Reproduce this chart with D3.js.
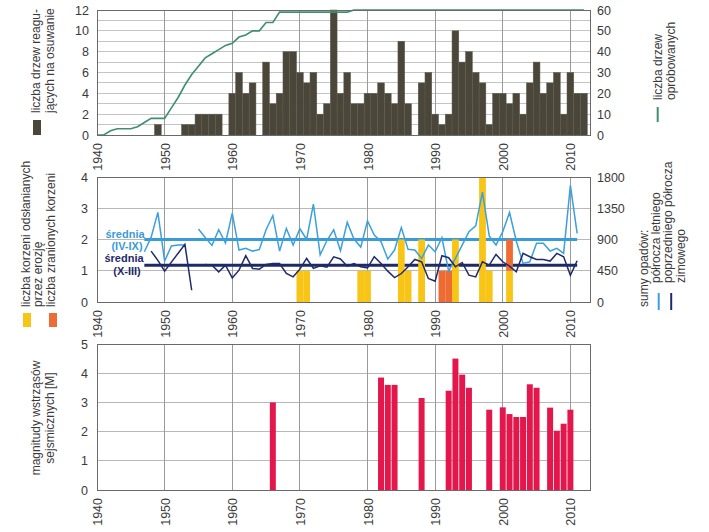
<!DOCTYPE html>
<html><head><meta charset="utf-8">
<script src="https://cdn.jsdelivr.net/npm/d3@7"></script>
<style>
body{margin:0;background:#fff}
svg{display:block}
text{font-family:"Liberation Sans",Arial,sans-serif}
</style>
</head><body><div id="chart"></div>
<script>
// ---------------- DATA ----------------
const decadeTicks = [1940,1950,1960,1970,1980,1990,2000,2010];

// top panel: trees reacting to landslide (bars, left axis) 1940-2012
const reactStart = 1940;
const reactingTrees = [0,0,0,0,0,0,0,0,0,1, 0,0,0,1,1,2,2,2,2,0, 4,6,4,5,0,7,3,4,8,8,
  6,5,6,2,3,12,4,6,3,3, 4,4,5,4,3,9,3,0,5,6, 2,1,2,10,7,8,6,5,1,4, 4,3,4,2,5,7,4,5,6,2, 6,4,4];
// number of sampled trees (line, right axis) 1940-2012
const sampledTrees = [0,0,2,3,3,3,4,6,8,8, 8,13,18,24,29,33,37,39,41,43, 44,47,48,50,50,54,54,59,59,59,
  59,59,59,59,59,59,59,59,60,60, 60,60,60,60,60,60,60,60,60,60, 60,60,60,60,60,60,60,60,60,60,
  60,60,60,60,60,60,60,60,60,60, 60,60,60];
const topLeftTicks = [0,2,4,6,8,10,12];
const topRightTicks = [0,10,20,30,40,50,60];

// middle panel: precipitation sums 1947-2011
const rainStart = 1947;
const summerRain = [723,930,1290,589,806,820,820,null, 1052,930,815,1040,850,
  1279,748,772,733,755,1040,1245,733,1060,820, 1055,900,1409,680,885,1040,740,1149,907,791,
  1168,965,869,618,748,1071,758,748,627,820, 724,927,444,627,820,1013,1096,1583,951,820,
  1013,1289,878,555,579,845,845,734,772,700, 1680,989];
const winterRain = [null,733,600,444,574,703,830,169, null,541,531,434,531,
  347,459,666,483,473,541,555,555,411,362, 473,627,483,521,500,650,620,516,555,507,
  492,652,555,444,352,410,507,613,579,338, 299,666,637,507,569,386,362,579,531,685,
  579,516,434,700,652,613,613,589,700,652, 386,594];
const summerMean = 900, winterMean = 530;
const meanYears = [1947, 2011];
// roots exposed by erosion / wounded roots
const exposedYears = [1970,1971,1979,1980,1985,1986,1988,1993,1997,1998,2001];
const exposedRoots = [1,1,1,1,2,1,2,2,4,1,1];
const woundedYears = [1991,1992,2001];
const woundedRoots = [1,1,1];
const midLeftTicks = [0,1,2,3,4];
const midRightTicks = [0,450,900,1350,1800];

// bottom panel: seismic magnitudes
const quakeYears = [1966,1982,1983,1984,1988,1992,1993,1994,1995,1998,2000,2001,2002,2003,2004,2005,2007,2008,2009,2010];
const quakeMag = [3.0,3.85,3.6,3.6,3.15,3.4,4.5,3.95,3.5,2.75,2.83,2.6,2.5,2.5,3.62,3.5,2.82,2.03,2.27,2.75];
const botLeftTicks = [0,1,2,3,4,5];

// ---------------- CHART ----------------
const W = 709, H = 532;
const svg = d3.select("#chart").append("svg").attr("width", W).attr("height", H);
svg.append("rect").attr("width", W).attr("height", H).attr("fill", "#fff");

const X0 = 97, X1 = 590;
const x = d3.scaleLinear().domain([1940, 2012.9]).range([X0, X1]);
const bw = x(1941) - x(1940);
const fmt = d3.format("d");

const C = {
  frame: "#6a6a6a", gridH: "#c4c4c4", gridV: "#9a9a9a", text: "#3a3a3a",
  treeBar: "#4a4639", treeLine: "#3d8f6f",
  light: "#3ba0dc", lightMean: "#3a9bd7", dark: "#1f2a6b", darkMean: "#1e2a66",
  yellow: "#f8c516", orange: "#ee6b34", red: "#e3174b"
};

function panel(yTop, yBot, yDomain, hTicks, gridHColor) {
  const y = d3.scaleLinear().domain(yDomain).range([yBot, yTop]);
  const g = svg.append("g");
  g.selectAll(".gh").data(hTicks).join("line")
    .attr("x1", X0).attr("x2", X1).attr("y1", d => y(d)).attr("y2", d => y(d))
    .attr("stroke", gridHColor).attr("stroke-width", 1).attr("shape-rendering", "crispEdges");
  g.selectAll(".gv").data(decadeTicks.slice(1)).join("line")
    .attr("x1", d => x(d)).attr("x2", d => x(d)).attr("y1", yTop).attr("y2", yBot)
    .attr("stroke", C.gridV).attr("stroke-width", 1).attr("shape-rendering", "crispEdges");
  return { y, g, yTop, yBot };
}
function frame(p) {
  svg.append("rect").attr("x", X0).attr("y", p.yTop).attr("width", X1 - X0).attr("height", p.yBot - p.yTop)
    .attr("fill", "none").attr("stroke", C.frame).attr("stroke-width", 1).attr("shape-rendering", "crispEdges");
}
function styleAxis(sel) {
  sel.select(".domain").remove();
  sel.selectAll("line").remove();
  sel.selectAll("text").attr("fill", C.text).style("font-size", "12.5px")
    .style("font-family", '"Liberation Sans",Arial,sans-serif');
}
function xLabels(p) {
  const a = svg.append("g").attr("transform", `translate(0,${p.yBot})`)
    .call(d3.axisBottom(x).tickValues(decadeTicks).tickFormat(fmt).tickSize(0));
  styleAxis(a);
  a.selectAll("text").attr("transform", "rotate(-90)").attr("x", -8).attr("y", 0)
    .attr("dy", "0.36em").style("text-anchor", "end");
}
function leftAxis(p, ticks, pad) {
  const a = svg.append("g").attr("transform", `translate(${X0},0)`)
    .call(d3.axisLeft(p.y).tickValues(ticks).tickFormat(fmt).tickSize(0).tickPadding(pad));
  styleAxis(a);
}
function rightAxis(yScale, ticks) {
  const a = svg.append("g").attr("transform", `translate(${X1},0)`)
    .call(d3.axisRight(yScale).tickValues(ticks).tickFormat(fmt).tickSize(0).tickPadding(7));
  styleAxis(a);
}

// ---- TOP PANEL ----
const pT = panel(10, 135, [0, 12], d3.range(0, 13), C.gridH);
const yTR = d3.scaleLinear().domain([0, 60]).range([135, 10]);
const topBars = reactingTrees.map((v, i) => ({ yr: reactStart + i, v }));
pT.g.selectAll(".tb").data(topBars.filter(d => d.v > 0)).join("rect")
  .attr("x", d => x(d.yr) - bw / 2).attr("width", bw)
  .attr("y", d => pT.y(d.v)).attr("height", d => pT.y(0) - pT.y(d.v))
  .attr("fill", C.treeBar).attr("stroke", "#5f5b4e").attr("stroke-width", 0.5);
const sampled = sampledTrees.map((v, i) => ({ yr: reactStart + i, v }));
pT.g.append("path").datum(sampled)
  .attr("d", d3.line().x(d => x(d.yr)).y(d => yTR(d.v)))
  .attr("fill", "none").attr("stroke", C.treeLine).attr("stroke-width", 1.6);
frame(pT);
leftAxis(pT, topLeftTicks, 8);
rightAxis(yTR, topRightTicks);
xLabels(pT);

// ---- MIDDLE PANEL ----
const pM = panel(177, 302, [0, 4], midLeftTicks, "#b8b8b8");
const yMR = d3.scaleLinear().domain([0, 1800]).range([302, 177]);
[[summerMean, C.lightMean], [winterMean, C.darkMean]].forEach(([m, col]) => {
  pM.g.append("line").attr("x1", x(meanYears[0])).attr("x2", x(meanYears[1]))
    .attr("y1", yMR(m)).attr("y2", yMR(m)).attr("stroke", col).attr("stroke-width", 3);
});
const exposedMap = new Map(exposedYears.map((yr, i) => [yr, exposedRoots[i]]));
pM.g.selectAll(".yb").data(exposedYears).join("rect")
  .attr("x", d => x(d) - bw / 2).attr("width", bw)
  .attr("y", d => pM.y(exposedMap.get(d))).attr("height", d => pM.y(0) - pM.y(exposedMap.get(d)))
  .attr("fill", C.yellow);
pM.g.selectAll(".ob").data(woundedYears.map((yr, i) => ({ yr, v: woundedRoots[i], base: exposedMap.get(yr) || 0 }))).join("rect")
  .attr("x", d => x(d.yr) - bw / 2).attr("width", bw)
  .attr("y", d => pM.y(d.base + d.v)).attr("height", d => pM.y(d.base) - pM.y(d.base + d.v))
  .attr("fill", C.orange);
const rainLine = d3.line().defined(d => d.v != null).x(d => x(d.yr)).y(d => yMR(d.v));
pM.g.append("path").datum(summerRain.map((v, i) => ({ yr: rainStart + i, v })))
  .attr("d", rainLine).attr("fill", "none").attr("stroke", C.light).attr("stroke-width", 1.5);
pM.g.append("path").datum(winterRain.map((v, i) => ({ yr: rainStart + i, v })))
  .attr("d", rainLine).attr("fill", "none").attr("stroke", C.dark).attr("stroke-width", 1.5);
frame(pM);
leftAxis(pM, midLeftTicks, 9);
rightAxis(yMR, midRightTicks);
xLabels(pM);
const ml = svg.append("g").style("font-weight", "bold").style("font-size", "11px").attr("text-anchor", "middle");
ml.append("text").attr("x", 125).attr("y", 238).attr("fill", C.lightMean).text("średnia");
ml.append("text").attr("x", 127).attr("y", 250).attr("fill", C.lightMean).text("(IV-IX)");
ml.append("text").attr("x", 124).attr("y", 262).attr("fill", C.dark).text("średnia");
ml.append("text").attr("x", 127).attr("y", 275).attr("fill", C.dark).text("(X-III)");

// ---- BOTTOM PANEL ----
const pB = panel(344, 490, [0, 5], botLeftTicks, "#b8b8b8");
pB.g.selectAll(".qb").data(quakeYears.map((yr, i) => ({ yr, v: quakeMag[i] }))).join("rect")
  .attr("x", d => x(d.yr) - bw / 2 + 0.4).attr("width", bw - 0.8)
  .attr("y", d => pB.y(d.v)).attr("height", d => pB.y(0) - pB.y(d.v))
  .attr("fill", C.red);
frame(pB);
leftAxis(pB, botLeftTicks, 9);
xLabels(pB);

// ---- LEGENDS (rotated text) ----
function vtext(xb, yAnchor, str, anchor = "start", col = C.text) {
  svg.append("text").attr("transform", `translate(${xb},${yAnchor}) rotate(-90)`)
    .attr("text-anchor", anchor).attr("fill", col).style("font-size", "12px").text(str);
}
svg.append("rect").attr("x", 33).attr("y", 120).attr("width", 8).attr("height", 15).attr("fill", C.treeBar);
vtext(39.5, 113, "liczba drzew reagu-");
vtext(53.5, 113, "jących na osuwanie");
vtext(29.5, 307, "liczba korzeni odsłanianych");
vtext(41.5, 307, "przez erozję");
vtext(54.5, 307, "liczba zranionych korzeni");
svg.append("rect").attr("x", 23).attr("y", 313).attr("width", 8).attr("height", 14).attr("fill", C.yellow);
svg.append("rect").attr("x", 49).attr("y", 313).attr("width", 8).attr("height", 14).attr("fill", C.orange);
vtext(39.5, 418, "magnitudy wstrząsów", "middle");
vtext(54, 418, "sejsmicznych [M]", "middle");
vtext(661.5, 100, "liczba drzew");
vtext(674.5, 100, "opróbowanych");
svg.append("line").attr("x1", 657.7).attr("x2", 657.7).attr("y1", 107).attr("y2", 122)
  .attr("stroke", C.treeLine).attr("stroke-width", 2);
vtext(647.5, 307, "sumy opadów:");
vtext(659.5, 283, "półrocza letniego");
vtext(672, 283, "poprzedniego półrocza");
vtext(684.5, 283, "zimowego");
svg.append("line").attr("x1", 658.7).attr("x2", 658.7).attr("y1", 293).attr("y2", 310)
  .attr("stroke", C.light).attr("stroke-width", 2);
svg.append("line").attr("x1", 671.2).attr("x2", 671.2).attr("y1", 293).attr("y2", 310)
  .attr("stroke", C.dark).attr("stroke-width", 2);
</script>
</body></html>
